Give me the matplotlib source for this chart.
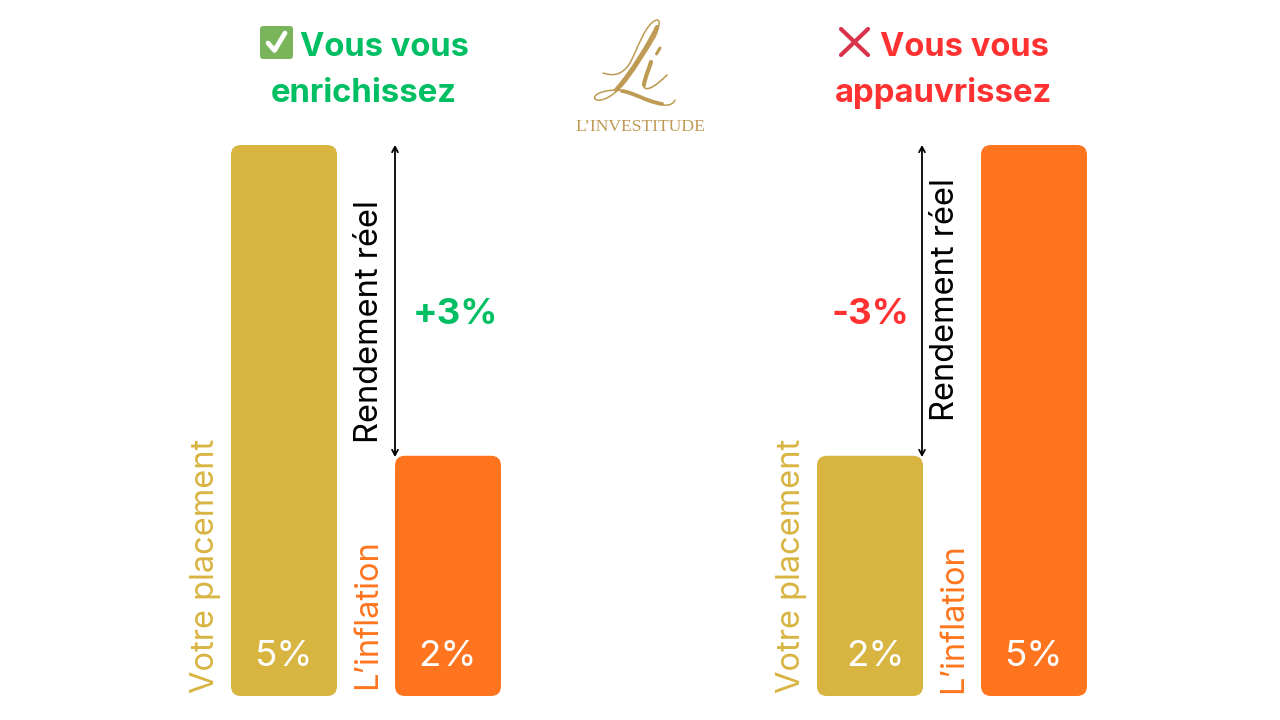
import matplotlib
matplotlib.use("Agg")
import matplotlib.pyplot as plt
from matplotlib.patches import FancyBboxPatch, PathPatch, FancyArrowPatch
from matplotlib.path import Path

plt.rcParams['font.family'] = ['Inter', 'DejaVu Sans']

# Data
panel_titles = [["Vous vous", "enrichissez"], ["Vous vous", "appauvrissez"]]
bar_names = ["Votre placement", "L’inflation"]
left_values = [5.0, 2.18]     # drawn heights, left panel
right_values = [2.18, 5.0]    # drawn heights, right panel
left_labels = ["5%", "2%"]
right_labels = ["2%", "5%"]
left_real = "+3%"
right_real = "-3%"
arrow_label = "Rendement réel"
logo_text = "L’INVESTITUDE"

GOLD = "#D8B441"
ORANGE = "#FF751F"
GREEN = "#00BF63"
RED = "#FF3131"
LOGO = "#BE9B54"

fig = plt.figure(figsize=(12.8, 7.2), dpi=100, facecolor="white")
PX_PER_UNIT = 551 / 5.0
ax = fig.add_axes([0, 0, 1, 1])
ax.set_xlim(0, 1280)
ax.set_ylim(-(720 - 696) / PX_PER_UNIT, 696 / PX_PER_UNIT)
ax.axis("off")

ov = fig.add_axes([0, 0, 1, 1], facecolor="none")
ov.set_xlim(0, 1280)
ov.set_ylim(720, 0)
ov.axis("off")


def bar(x, w, value, color):
    ax.add_patch(FancyBboxPatch((x, 0), w, value, boxstyle="round,pad=0,rounding_size=10",
                                mutation_aspect=1 / PX_PER_UNIT, fc=color, ec="none"))


xs_left = [231, 395]
xs_right = [817, 981]
W = 106
label_dx = {817: 6}
for xs, vals, labs in [(xs_left, left_values, left_labels), (xs_right, right_values, right_labels)]:
    for x, v, lab, c in zip(xs, vals, labs, [GOLD, ORANGE]):
        bar(x, W, v, c)
        ov.text(x + W / 2 + label_dx.get(x, 0) - 0.5, 656, lab, color="white", fontsize=26.5,
                ha="center", va="center")

# rotated bar names
for x, name, c, y in [(205.5, bar_names[0], GOLD, 693), (368, bar_names[1], ORANGE, 689),
                      (791.5, bar_names[0], GOLD, 693), (954, bar_names[1], ORANGE, 693)]:
    ov.text(x, y, name, color=c, fontsize=23.5, rotation=90, ha="center", va="bottom")

# double arrows and labels
for x in [395, 922]:
    ov.add_patch(FancyArrowPatch((x, 145), (x, 457), arrowstyle="<->,head_length=0.55,head_width=0.3",
                                 mutation_scale=7, color="black", lw=1.3, shrinkA=0, shrinkB=0))
ov.text(369, 322, arrow_label, color="black", fontsize=23.5, rotation=90, ha="center", va="center")
ov.text(945, 300, arrow_label, color="black", fontsize=23.5, rotation=90, ha="center", va="center")

ov.text(455, 314, left_real, color=GREEN, fontsize=26.3, fontweight="bold", ha="center", va="center")
ov.text(870, 314, right_real, color=RED, fontsize=26.3, fontweight="bold", ha="center", va="center")

# panel titles
ov.text(385, 47, panel_titles[0][0], color=GREEN, fontsize=23.5, fontweight="bold", ha="center", va="center")
ov.text(364, 93, panel_titles[0][1], color=GREEN, fontsize=23.7, fontweight="bold", ha="center", va="center")
ov.text(964, 47, panel_titles[1][0], color=RED, fontsize=23.5, fontweight="bold", ha="center", va="center")
ov.text(943, 93, panel_titles[1][1], color=RED, fontsize=23.7, fontweight="bold", ha="center", va="center")

# check icon
ov.add_patch(FancyBboxPatch((260, 26), 33, 33, boxstyle="round,pad=0,rounding_size=3", fc="#7AB55C", ec="none"))
ov.plot([268, 274.5, 285], [43, 50.5, 33], color="white", lw=3.4, solid_capstyle="round", solid_joinstyle="round")
# cross icon
ov.plot([841, 868], [29, 55], color="#D9334C", lw=3.0, solid_capstyle="round")
ov.plot([868, 841], [29, 55], color="#D9334C", lw=3.0, solid_capstyle="round")

# logo script: hairline outline with heavier strokes on top
M, C = Path.MOVETO, Path.CURVE4
hair = [(603, 73), (612, 76), (622, 76), (630, 63), (637, 50), (646, 22), (657, 20),
        (661, 20), (659, 28), (655, 37), (646, 52), (632, 75), (622, 86), (612, 97), (600, 103), (595, 99),
        (592, 95), (603, 90), (617, 90), (632, 91), (650, 103), (664, 105), (670, 106), (674, 103), (675, 100)]
n = len(hair)
ov.add_patch(PathPatch(Path(hair, [M] + [C] * (n - 1)), fc="none", ec=LOGO, lw=1.1, capstyle="round"))
stem = [(657, 27), (650, 42), (632, 72), (616, 90)]
ov.add_patch(PathPatch(Path(stem, [M, C, C, C]), fc="none", ec=LOGO, lw=3.0, capstyle="round"))
swash = [(622, 91), (635, 93), (645, 101), (662, 104)]
ov.add_patch(PathPatch(Path(swash, [M, C, C, C]), fc="none", ec=LOGO, lw=2.8, capstyle="round"))
i_stem = [(651, 62), (648, 70), (642, 82), (644, 87), (647, 92), (657, 85), (667, 75)]
ov.add_patch(PathPatch(Path(i_stem, [M] + [C] * 6), fc="none", ec=LOGO, lw=1.2, capstyle="round"))
i_thick = [(651, 62), (649, 69), (645, 77), (644, 85)]
ov.add_patch(PathPatch(Path(i_thick, [M, C, C, C]), fc="none", ec=LOGO, lw=3.0, capstyle="round"))
ov.plot([660, 656.5], [48, 54], color=LOGO, lw=2.2, solid_capstyle="round")
ov.text(640, 127, logo_text, color=LOGO, fontsize=12.6, family="Liberation Serif", ha="center", va="center")

fig.savefig("out.png", dpi=100)
